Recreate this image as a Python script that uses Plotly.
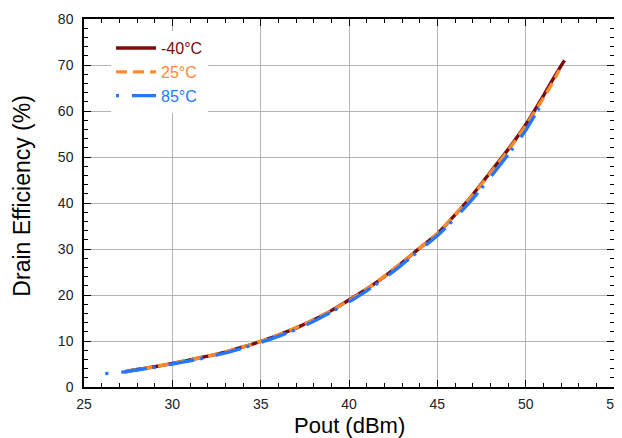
import plotly.graph_objects as go

# -40°C
pout_m40 = [27.3, 28, 29, 30, 31, 32, 33, 34, 35, 36, 37, 38, 39, 40, 41, 42, 43, 44, 45, 46, 47, 48, 49, 50, 51, 51.5, 52, 52.2]
eff_m40 = [3.3, 3.8, 4.4, 5.1, 5.9, 6.7, 7.6, 8.7, 9.9, 11.3, 12.8, 14.6, 16.6, 18.9, 21.3, 24.0, 27.0, 30.2, 33.3, 37.4, 41.8, 46.7, 51.6, 57.0, 63.3, 66.6, 69.8, 71.0]
# 25°C
pout_25 = [27.3, 28, 29, 30, 31, 32, 33, 34, 35, 36, 37, 38, 39, 40, 41, 42, 43, 44, 45, 46, 47, 48, 49, 50, 51, 51.5, 51.9]
eff_25 = [3.3, 3.8, 4.4, 5.1, 5.9, 6.7, 7.6, 8.7, 9.9, 11.3, 12.9, 14.6, 16.6, 18.8, 21.3, 24.1, 27.1, 30.2, 33.3, 37.4, 41.7, 46.5, 51.4, 56.8, 62.8, 66.0, 68.9]
# 85°C
pout_85 = [26.2, 27.3, 28, 29, 30, 31, 32, 33, 34, 35, 36, 37, 38, 39, 40, 41, 42, 43, 44, 45, 46, 47, 48, 49, 50, 50.5, 51.1]
eff_85 = [2.9, 3.3, 3.7, 4.3, 5.0, 5.7, 6.5, 7.4, 8.5, 9.7, 11.0, 12.5, 14.3, 16.3, 18.5, 20.9, 23.6, 26.6, 29.8, 32.9, 36.7, 40.9, 45.6, 50.5, 55.8, 59.0, 62.8]

names = ["-40°C", "25°C", "85°C"]
colors = ["#7a0c0c", "#ff8a2a", "#2577ff"]
dashes = ["solid", "11px,6px", "3px,13px,26px,6px"]
x_title = "Pout (dBm)"
y_title = "Drain Efficiency (%)"

fig = go.Figure()
for xs, ys, n, c, d in zip([pout_m40, pout_25, pout_85], [eff_m40, eff_25, eff_85], names, colors, dashes):
    fig.add_trace(go.Scatter(
        x=xs, y=ys, mode="lines",
        name=f"<span style='color:{c}'>{n}</span>",
        line=dict(color=c, width=3.4, dash=d, shape="spline", smoothing=0.6),
    ))

font_fam = "Liberation Sans, Arial"
axis_common = dict(
    showline=True, linecolor="black", linewidth=1.5, mirror="allticks",
    ticks="inside", ticklen=7, tickwidth=1.2, tickcolor="black",
    showgrid=True, gridcolor="#b4b4b4", gridwidth=1.2, zeroline=False,
    tickfont=dict(family=font_fam, size=14, color="#222"),
    automargin=False, ticklabeloverflow="allow",
)
fig.update_xaxes(range=[25, 55], dtick=5, tick0=25, ticklabelstandoff=3,
                 minor=dict(dtick=1, ticks="inside", ticklen=4, tickcolor="black", showgrid=False),
                 **axis_common)
fig.update_yaxes(range=[0, 80], dtick=10, tick0=0, ticklabelstandoff=6,
                 minor=dict(dtick=2, ticks="inside", ticklen=4, tickcolor="black", showgrid=False),
                 **axis_common)

fig.add_annotation(text=x_title, xref="paper", yref="paper", x=0.5, y=-0.105,
                   xanchor="center", yanchor="middle", showarrow=False,
                   font=dict(family=font_fam, size=22, color="black"))
fig.add_annotation(text=y_title, xref="paper", yref="paper", x=-0.117, y=0.52,
                   xanchor="center", yanchor="middle", showarrow=False, textangle=-90,
                   font=dict(family=font_fam, size=23, color="black"))

fig.update_layout(
    width=620, height=436,
    margin=dict(l=76, r=14, t=11, b=57, autoexpand=False),
    paper_bgcolor="white", plot_bgcolor="white",
    legend=dict(x=0.051, y=0.967, xanchor="left", yanchor="top",
                bgcolor="rgba(255,255,255,1)", borderwidth=0,
                font=dict(family=font_fam, size=16),
                tracegroupgap=0, itemwidth=40),
    showlegend=True,
)

fig.write_html("out.html")
